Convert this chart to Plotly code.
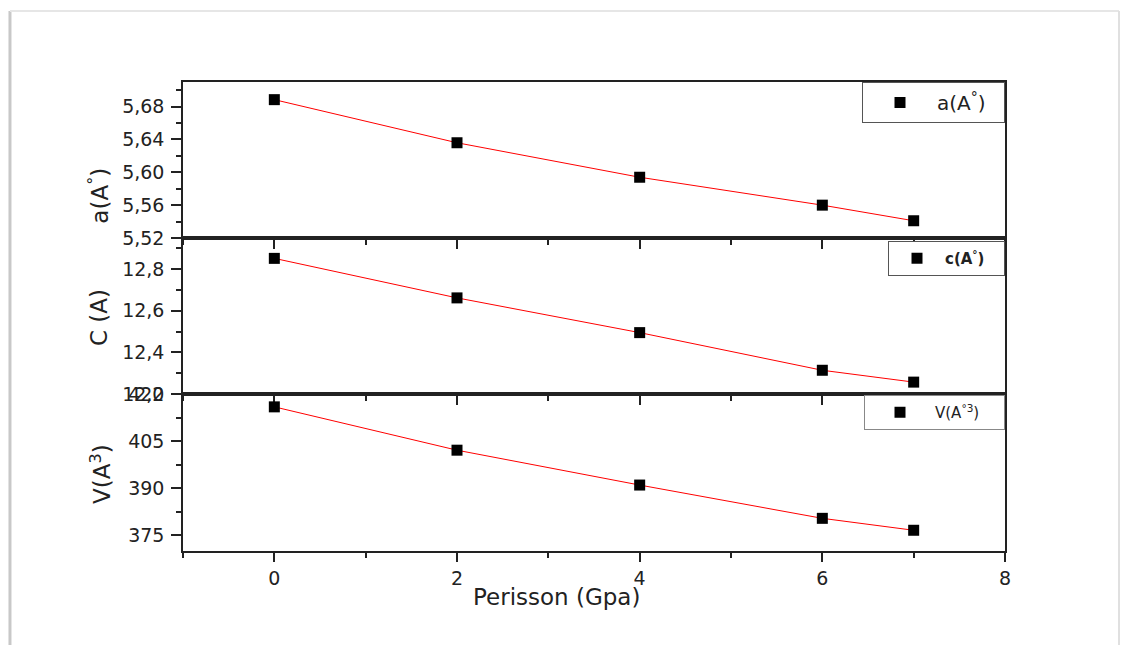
import plotly.graph_objects as go

# ---- data ----
pressure = [0, 2, 4, 6, 7]
a_vals = [5.6885, 5.636, 5.594, 5.560, 5.541]
c_vals = [12.852, 12.662, 12.495, 12.314, 12.257]
v_vals = [415.9, 402.1, 391.0, 380.4, 376.6]

x_ticks = [0, 2, 4, 6, 8]
a_ticks = [5.52, 5.56, 5.60, 5.64, 5.68]
c_ticks = [12.2, 12.4, 12.6, 12.8]
v_ticks = [375, 390, 405, 420]

FONT = "DejaVu Sans, Liberation Sans, Arial, sans-serif"
AX = "#222222"
NB = "\u00a0"

fig = go.Figure()

panels = [
    (a_vals, "x", "y", "legend", "a(A<sup>°</sup>)" + NB * 2),
    (c_vals, "x2", "y2", "legend2", "<b>c(A<sup>°</sup>)</b>" + NB * 3),
    (v_vals, "x3", "y3", "legend3", "V(A<sup>°3</sup>)" + NB * 4),
]
for vals, xa, ya, lg, name in panels:
    fig.add_trace(go.Scatter(x=pressure, y=vals, mode="lines", xaxis=xa, yaxis=ya,
                             line=dict(color="red", width=1), showlegend=False))
    fig.add_trace(go.Scatter(x=pressure, y=vals, mode="markers", xaxis=xa, yaxis=ya,
                             marker=dict(symbol="square", size=11, color="black"),
                             name=name, legend=lg, showlegend=True))

d_top = [0.6674, 1.0]
d_mid = [0.3348, 0.6674]
d_bot = [0.0, 0.3348]

def xaxis(domain_anchor, show_labels):
    return dict(range=[-1, 8], anchor=domain_anchor, tickvals=x_ticks,
                showticklabels=show_labels, ticks="outside", ticklen=9, tickwidth=2,
                tickcolor=AX, showline=True, linecolor=AX, linewidth=1.5, mirror=True,
                showgrid=False, zeroline=False,
                minor=dict(tickvals=[-1, 1, 3, 5, 7], ticks="outside", ticklen=5,
                           tickwidth=2, tickcolor=AX),
                tickfont=dict(size=19, color="#222", family=FONT))

def yaxis(domain, rng, tvals, anchor, minor_vals, fmt):
    return dict(domain=domain, range=rng, anchor=anchor, tickvals=tvals,
                tickformat=fmt,
                ticks="outside", ticklen=10, tickwidth=2, tickcolor=AX,
                ticklabelstandoff=3,
                showline=True, linecolor=AX, linewidth=1.5, mirror=True,
                showgrid=False, zeroline=False,
                minor=dict(tickvals=minor_vals, ticks="outside", ticklen=5,
                           tickwidth=2, tickcolor=AX),
                tickfont=dict(size=19, color="#222", family=FONT))

fig.update_layout(
    width=1121, height=645,
    margin=dict(l=183, r=116, t=82, b=94),
    paper_bgcolor="white", plot_bgcolor="white",
    separators=", ",
    font=dict(family=FONT, color="#222"),
    xaxis=xaxis("y", False),
    xaxis2=xaxis("y2", False),
    xaxis3=xaxis("y3", True),
    yaxis=yaxis(d_top, [5.52, 5.71], a_ticks, "x", [5.54, 5.58, 5.62, 5.66, 5.70], ".2f"),
    yaxis2=yaxis(d_mid, [12.2, 12.95], c_ticks, "x2", [12.3, 12.5, 12.7, 12.9], ".1f"),
    yaxis3=yaxis(d_bot, [370, 420], v_ticks, "x3", [382.5, 397.5, 412.5], "d"),
    legend=dict(x=1, y=1, xanchor="right", yanchor="top", bgcolor="white",
                bordercolor="#555", borderwidth=1, itemwidth=64,
                font=dict(size=20, family=FONT)),
    legend2=dict(x=1, y=0.661, xanchor="right", yanchor="top", bgcolor="white",
                 bordercolor="#555", borderwidth=1, itemwidth=46,
                 font=dict(size=15, family=FONT)),
    legend3=dict(x=1, y=0.3326, xanchor="right", yanchor="top", bgcolor="white",
                 bordercolor="#888", borderwidth=1, itemwidth=60,
                 font=dict(size=15, family=FONT)),
)

# axis titles
ann = [
    dict(text="a(A<sup>°</sup>)", x=-0.102, y=0.758, textangle=-90, size=23),
    dict(text="C (A)", x=-0.102, y=0.497, textangle=-90, size=23),
    dict(text="V(A<sup>3</sup>)", x=-0.100, y=0.164, textangle=-90, size=23),
    dict(text="Perisson (Gpa)", x=(556 - 183) / 822, y=(551 - 597) / 469, textangle=0, size=23),
]
for a in ann:
    fig.add_annotation(text=a["text"], x=a["x"], y=a["y"], xref="paper", yref="paper",
                       showarrow=False, textangle=a["textangle"], xanchor="center",
                       yanchor="middle", font=dict(size=a["size"], family=FONT, color="#222"))

# card frame
fig.add_shape(type="line", xref="paper", yref="paper", x0=-0.2105, x1=-0.2105,
              y0=1.1514, y1=-0.21, line=dict(color="#c8c8c8", width=3))
fig.add_shape(type="line", xref="paper", yref="paper", x0=-0.2105, x1=1.1387,
              y0=1.1514, y1=1.1514, line=dict(color="#e6e6e6", width=2))
fig.add_shape(type="line", xref="paper", yref="paper", x0=1.1387, x1=1.1387,
              y0=1.1514, y1=-0.21, line=dict(color="#e0e0e0", width=2))

fig.write_html("out.html")
